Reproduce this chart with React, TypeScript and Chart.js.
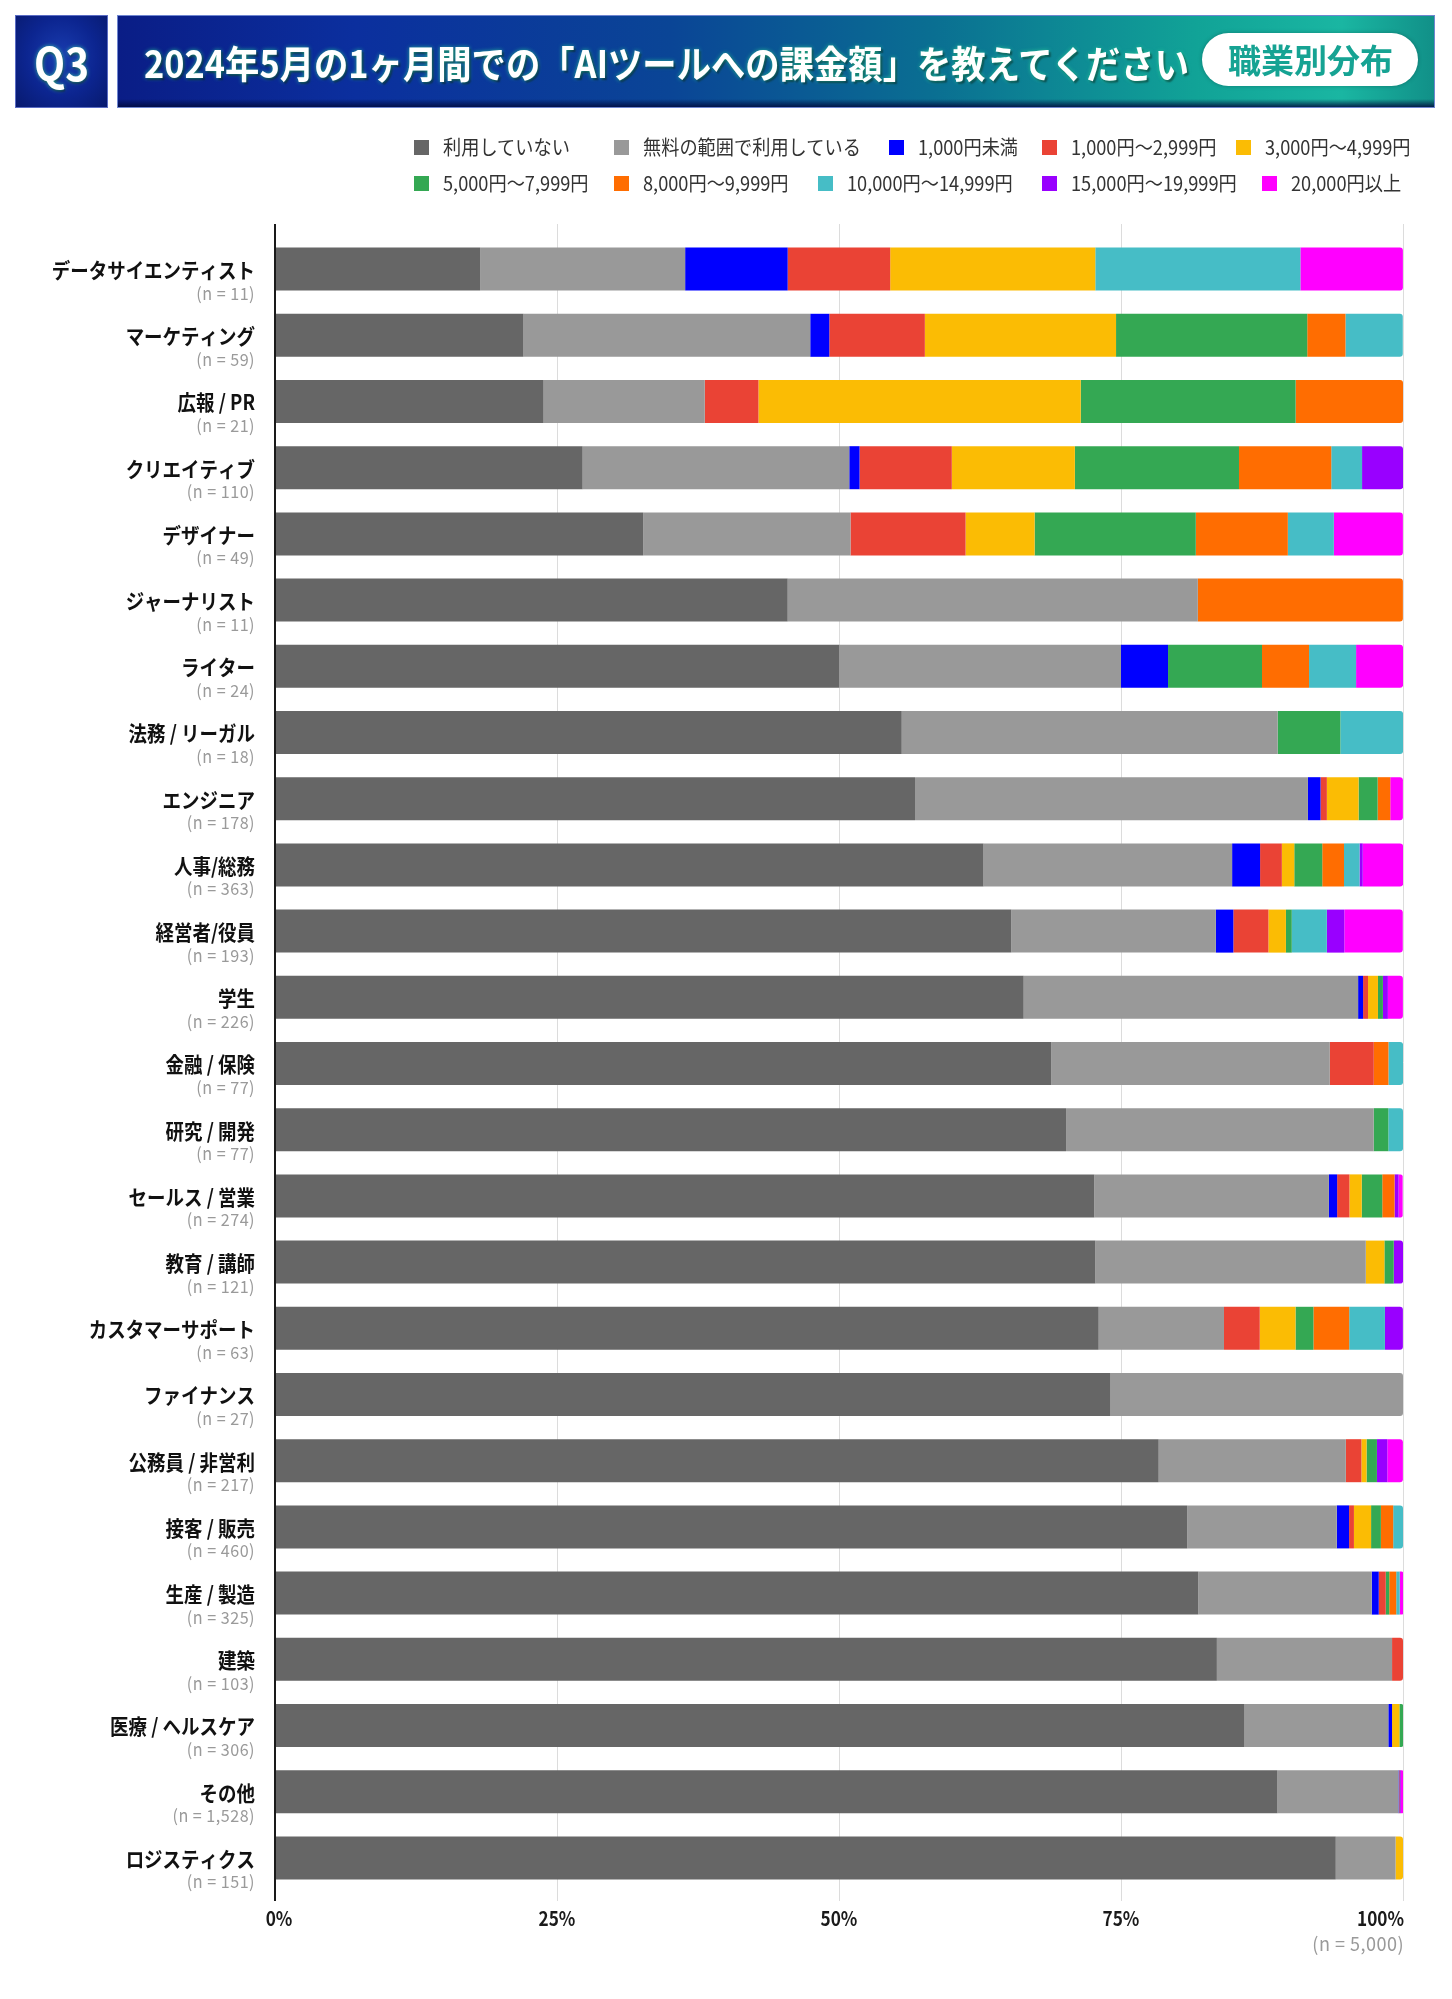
import React, { useEffect, useLayoutEffect, useRef } from 'react';
import { Chart, registerables } from 'chart.js';

Chart.register(...registerables);

// ---------------- data ----------------
const titleText = '2024年5月の1ヶ月間での「AIツールへの課金額」を教えてください';
const questionLabel = 'Q3';
const badgeText = '職業別分布';

const categories = [
  'データサイエンティスト', 'マーケティング', '広報 / PR', 'クリエイティブ', 'デザイナー',
  'ジャーナリスト', 'ライター', '法務 / リーガル', 'エンジニア', '人事/総務',
  '経営者/役員', '学生', '金融 / 保険', '研究 / 開発', 'セールス / 営業',
  '教育 / 講師', 'カスタマーサポート', 'ファイナンス', '公務員 / 非営利', '接客 / 販売',
  '生産 / 製造', '建築', '医療 / ヘルスケア', 'その他', 'ロジスティクス',
];
const sampleSizes = [11, 59, 21, 110, 49, 11, 24, 18, 178, 363, 193, 226, 77, 77, 274, 121, 63, 27, 217, 460, 325, 103, 306, 1528, 151];
const totalN = 5000;

const seriesNames = [
  '利用していない', '無料の範囲で利用している', '1,000円未満', '1,000円～2,999円', '3,000円～4,999円',
  '5,000円～7,999円', '8,000円～9,999円', '10,000円～14,999円', '15,000円～19,999円', '20,000円以上',
];
const seriesColors = ['#666666', '#999999', '#0000ff', '#ea4335', '#fbbc04', '#34a853', '#ff6d01', '#46bdc6', '#9900ff', '#ff00ff'];

const notUsing = [18.18, 22.03, 23.81, 27.27, 32.65, 45.45, 50.0, 55.56, 56.74, 62.81, 65.28, 66.37, 68.83, 70.13, 72.63, 72.73, 73.02, 74.07, 78.34, 80.87, 81.85, 83.5, 85.95, 88.87, 94.04];
const freeTier = [18.18, 25.42, 14.29, 23.64, 18.37, 36.36, 25.0, 33.33, 34.83, 22.04, 18.13, 29.65, 24.68, 27.27, 20.8, 23.97, 11.11, 25.93, 16.59, 13.26, 15.38, 15.53, 12.75, 10.73, 5.3];
const under1000 = [9.09, 1.69, 0, 0.91, 0, 0, 4.17, 0, 1.12, 2.48, 1.55, 0.44, 0, 0, 0.73, 0, 0, 0, 0, 1.09, 0.62, 0, 0.33, 0.07, 0];
const yen1000to2999 = [9.09, 8.47, 4.76, 8.18, 10.2, 0, 0, 0, 0.56, 1.93, 3.11, 0.44, 3.9, 0, 1.09, 0, 3.17, 0, 1.38, 0.43, 0.62, 0.97, 0, 0.07, 0];
const yen3000to4999 = [18.18, 16.95, 28.57, 10.91, 6.12, 0, 0, 0, 2.81, 1.1, 1.55, 0.88, 0, 0, 1.09, 1.65, 3.17, 0, 0.46, 1.52, 0, 0, 0.65, 0, 0.66];
const yen5000to7999 = [0, 16.95, 19.05, 14.55, 14.29, 0, 8.33, 5.56, 1.69, 2.48, 0.52, 0.44, 0, 1.3, 1.82, 0.83, 1.59, 0, 0.92, 0.87, 0.31, 0, 0.33, 0, 0];
const yen8000to9999 = [0, 3.39, 9.52, 8.18, 8.16, 18.18, 4.17, 0, 1.12, 1.93, 0, 0, 1.3, 0, 1.09, 0, 3.17, 0, 0, 1.09, 0.62, 0, 0, 0, 0];
const yen10000to14999 = [18.18, 5.08, 0, 2.73, 4.08, 0, 4.17, 5.56, 0, 1.38, 3.11, 0, 1.3, 1.3, 0, 0, 3.17, 0, 0, 0.87, 0.31, 0, 0, 0, 0];
const yen15000to19999 = [0, 0, 0, 3.64, 0, 0, 0, 0, 0, 0.28, 1.55, 0.44, 0, 0, 0.36, 0.83, 1.59, 0, 0.92, 0, 0, 0, 0, 0.07, 0];
const yen20000plus = [9.09, 0, 0, 0, 6.12, 0, 4.17, 0, 1.12, 3.58, 5.18, 1.33, 0, 0, 0.36, 0, 0, 0, 1.38, 0, 0.31, 0, 0, 0.2, 0];

const xTickValues = [0, 25, 50, 75, 100];

// ---------------- styling / layout ----------------
const FONT = "'Noto Sans CJK JP', 'Noto Sans', sans-serif";
const W = 1452;
const H = 1999;

// legend slot positions (swatch left, row)
const legendSlots = [
  { x: 414, row: 0 }, { x: 614, row: 0 }, { x: 889, row: 0 }, { x: 1042, row: 0 }, { x: 1236, row: 0 },
  { x: 414, row: 1 }, { x: 614, row: 1 }, { x: 818, row: 1 }, { x: 1042, row: 1 }, { x: 1262, row: 1 },
];
const legendRowY = [147, 183];

function drawText(ctx: CanvasRenderingContext2D, text: string, x: number, y: number, font: string, color: string, align: CanvasTextAlign, sx: number, spacing = '0px') {
  ctx.save();
  ctx.font = font;
  ctx.fillStyle = color;
  ctx.textAlign = align;
  ctx.textBaseline = 'middle';
  (ctx as any).letterSpacing = spacing;
  ctx.translate(x, y);
  ctx.scale(sx, 1);
  ctx.fillText(text, 0, 0);
  ctx.restore();
}

const decorPlugin = {
  id: 'decor',
  beforeDatasetsDraw(chart: any) {
    const { ctx, chartArea, scales } = chart;
    ctx.save();
    xTickValues.forEach((v) => {
      if (v === 0) return;
      const px = Math.round(scales.x.getPixelForValue(v)) + 0.5;
      ctx.beginPath();
      ctx.strokeStyle = '#dcdcdc';
      ctx.lineWidth = 1;
      ctx.moveTo(px, chartArea.top - 12);
      ctx.lineTo(px, chartArea.bottom + 10);
      ctx.stroke();
    });
    ctx.restore();
  },
  afterDatasetsDraw(chart: any) {
    const { ctx, chartArea, scales } = chart;
    const x = scales.x;
    const y = scales.y;
    // axis line
    ctx.save();
    const px0 = x.getPixelForValue(0);
    ctx.beginPath();
    ctx.strokeStyle = '#1a1a1a';
    ctx.lineWidth = 2;
    ctx.moveTo(px0, chartArea.top - 12);
    ctx.lineTo(px0, chartArea.bottom + 10);
    ctx.stroke();
    ctx.restore();

    // category labels
    categories.forEach((label, i) => {
      const cy = y.getPixelForValue(i);
      drawText(ctx, label, chartArea.left - 20, cy + 1, `bold 21px ${FONT}`, '#111111', 'right', 0.88);
      drawText(ctx, `(n = ${sampleSizes[i].toLocaleString('en-US')})`, chartArea.left - 20, cy + 24, `17px ${FONT}`, '#9a9a9a', 'right', 0.95, '0.5px');
    });

    // x tick labels
    xTickValues.forEach((v, i) => {
      const px = x.getPixelForValue(v);
      const last = i === xTickValues.length - 1;
      drawText(ctx, `${v}%`, last ? px + 1 : px + (i === 0 ? 4 : 0), chartArea.bottom + 27, `bold 20px ${FONT}`, '#1a1a1a', last ? 'right' : 'center', 0.86);
    });
    drawText(ctx, `(n = ${totalN.toLocaleString('en-US')})`, x.getPixelForValue(100) + 1, chartArea.bottom + 53, `19px ${FONT}`, '#9a9a9a', 'right', 0.95, '0.5px');
  },
};

function FitText({ text, width, style }: { text: string; width: number; style?: React.CSSProperties }) {
  const ref = useRef<HTMLSpanElement>(null);
  useLayoutEffect(() => {
    const el = ref.current;
    if (!el) return;
    el.style.transform = 'none';
    const w = el.getBoundingClientRect().width;
    if (w > 0) el.style.transform = `scaleX(${width / w})`;
  }, [text, width]);
  return (
    <span ref={ref} style={{ display: 'inline-block', whiteSpace: 'nowrap', transformOrigin: 'left center', ...style }}>
      {text}
    </span>
  );
}

export default function App() {
  const canvasRef = useRef<HTMLCanvasElement>(null);

  useEffect(() => {
    const canvas = canvasRef.current;
    if (!canvas) return;
    const series = [notUsing, freeTier, under1000, yen1000to2999, yen3000to4999, yen5000to7999, yen8000to9999, yen10000to14999, yen15000to19999, yen20000plus];
    const lastNonZero = categories.map((_, i) => {
      let last = 0;
      series.forEach((s, k) => { if (s[i] > 0) last = k; });
      return last;
    });
    const chart = new Chart(canvas, {
      type: 'bar',
      data: {
        labels: categories,
        datasets: series.map((d, k) => ({
          label: seriesNames[k],
          data: d,
          backgroundColor: seriesColors[k],
          borderWidth: 0,
          borderSkipped: 'start',
          borderRadius: (c: any) => (lastNonZero[c.dataIndex] === c.datasetIndex ? { topLeft: 0, bottomLeft: 0, topRight: 3, bottomRight: 3 } : 0),
          categoryPercentage: 1,
          barPercentage: 0.65,
        })),
      },
      options: {
        indexAxis: 'y',
        responsive: true,
        maintainAspectRatio: false,
        animation: false,
        layout: { padding: { left: 275, right: 49, top: 236, bottom: 108 } },
        scales: {
          x: { stacked: true, min: 0, max: 100, display: false },
          y: { stacked: true, display: false },
        },
        plugins: { legend: { display: false }, tooltip: { enabled: false } },
      } as any,
      plugins: [decorPlugin],
    });
    return () => chart.destroy();
  }, []);

  return (
    <div style={{ position: 'absolute', left: 0, top: 0, width: W, height: H, overflow: 'hidden', background: '#ffffff', fontFamily: FONT }}>
      <div style={{ position: 'absolute', left: 0, top: 0, width: W, height: H }}>
        <canvas ref={canvasRef} />
      </div>

      {/* Question box */}
      <div style={{
        position: 'absolute', left: 15, top: 15, width: 93, height: 93, boxSizing: 'border-box',
        background: 'radial-gradient(ellipse at 50% 45%, #1a3db0 0%, #0c2590 55%, #081a6e 100%)',
        border: '1px solid #5a6cc4',
      }}>
        <div style={{ position: 'absolute', left: 18, top: 0, height: 91, lineHeight: '91px' }}>
          <FitText text={questionLabel} width={55} style={{ color: '#ffffff', fontWeight: 700, fontSize: 46, textShadow: '0 0 5px rgba(60,220,170,0.8), 1px 2px 2px rgba(0,0,0,0.5)' }} />
        </div>
      </div>

      {/* Title banner */}
      <div style={{
        position: 'absolute', left: 117, top: 15, width: 1318, height: 93, boxSizing: 'border-box',
        background: 'linear-gradient(90deg, #0a1d86 0%, #0b2f9e 18%, #0a4596 42%, #0a6f92 62%, #11a397 82%, #1ab6a2 93%, #119088 100%)',
        border: '1px solid #6f86d0',
      }}>
        <div style={{ position: 'absolute', left: 0, right: 0, bottom: 0, height: 8, background: 'linear-gradient(180deg, rgba(0,0,40,0) 0%, rgba(0,10,60,0.85) 100%)' }} />
        <div style={{ position: 'absolute', left: 26, top: 0, height: 91, lineHeight: '91px' }}>
          <FitText text={titleText} width={1045} style={{ color: '#ffffff', fontWeight: 700, fontSize: 38, textShadow: '0 0 5px rgba(40,200,150,0.85), 2px 2px 2px rgba(0,0,0,0.55)' }} />
        </div>
        <div style={{
          position: 'absolute', left: 1084, top: 17, width: 216, height: 53, borderRadius: 27, background: '#ffffff',
          boxShadow: '0 0 4px rgba(0,0,0,0.25)',
        }}>
          <div style={{ position: 'absolute', left: 26, top: 0, height: 53, lineHeight: '53px' }}>
            <FitText text={badgeText} width={165} style={{ color: '#16a393', fontWeight: 700, fontSize: 33 }} />
          </div>
        </div>
      </div>

      {/* Legend */}
      {seriesNames.map((name, k) => {
        const slot = legendSlots[k];
        const cy = legendRowY[slot.row];
        return (
          <div key={name} style={{ position: 'absolute', left: slot.x, top: cy - 14, height: 28 }}>
            <div style={{ position: 'absolute', left: 0, top: 7, width: 15, height: 15, background: seriesColors[k] }} />
            <div style={{ position: 'absolute', left: 29, top: 0, height: 28, lineHeight: '28px', whiteSpace: 'nowrap', transform: 'scaleX(0.91)', transformOrigin: 'left center', fontSize: 20, color: '#333333' }}>
              {name}
            </div>
          </div>
        );
      })}
    </div>
  );
}
